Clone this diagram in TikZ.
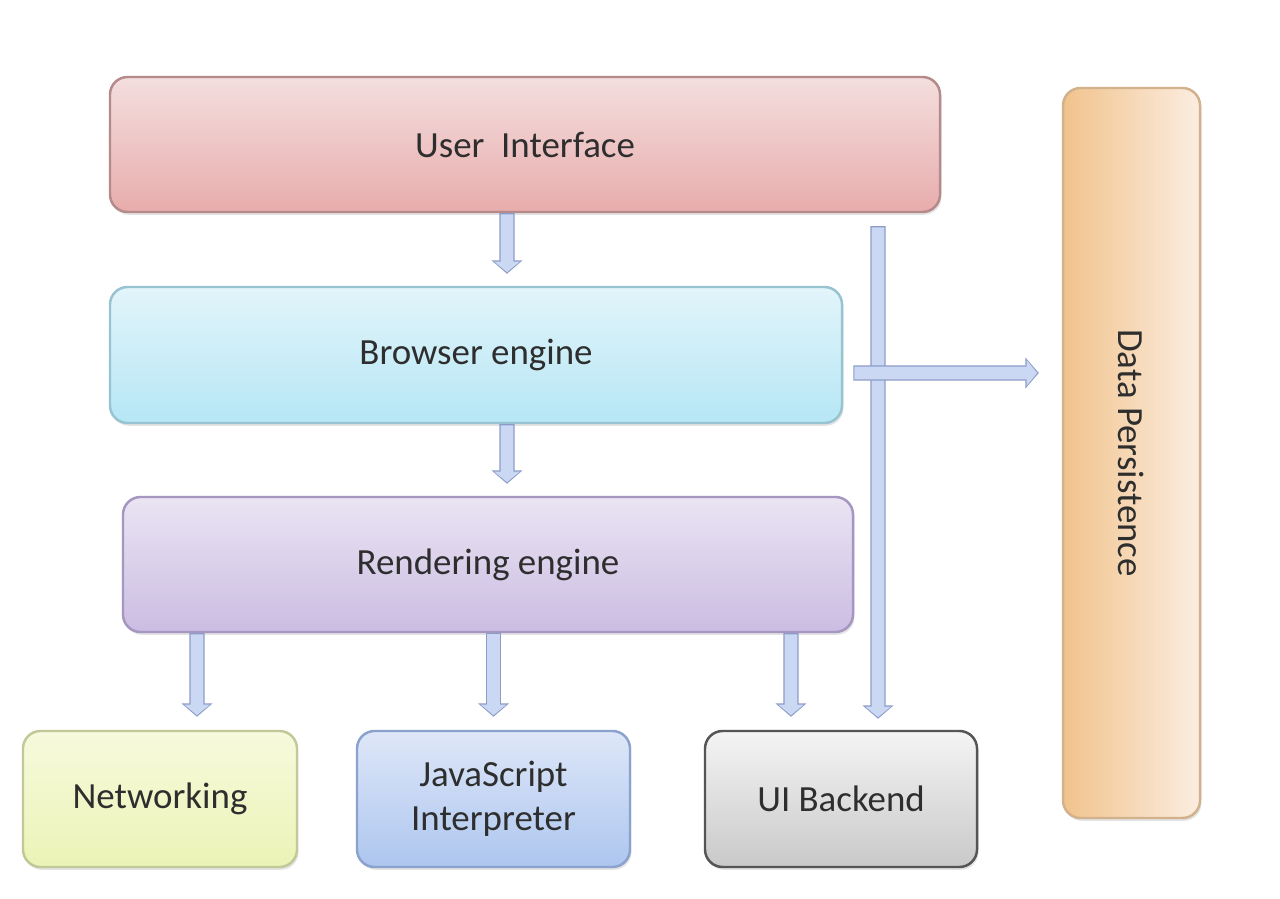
\documentclass[tikz,border=0pt]{standalone}
\usepackage{fontspec}
\setmainfont{Carlito}
\usepackage{xcolor}
\usetikzlibrary{arrows.meta,shadows}
\definecolor{ink}{HTML}{2E2E2E}
\definecolor{uitop}{HTML}{F4DEDE}
\definecolor{uibot}{HTML}{E8ACAC}
\definecolor{uiline}{HTML}{B58A8A}
\definecolor{betop}{HTML}{E2F5FA}
\definecolor{bebot}{HTML}{B6E6F5}
\definecolor{beline}{HTML}{98C3D0}
\definecolor{retop}{HTML}{EAE4F3}
\definecolor{rebot}{HTML}{CBBDE2}
\definecolor{reline}{HTML}{A597C2}
\definecolor{nettop}{HTML}{F7FADC}
\definecolor{netbot}{HTML}{EBF3B6}
\definecolor{netline}{HTML}{C2C998}
\definecolor{jstop}{HTML}{DEE7F8}
\definecolor{jsbot}{HTML}{ADC6EF}
\definecolor{jsline}{HTML}{8CA2CE}
\definecolor{uibtop}{HTML}{F4F4F4}
\definecolor{uibbot}{HTML}{C9C9C9}
\definecolor{uibline}{HTML}{555555}
\definecolor{dpleft}{HTML}{F1C38C}
\definecolor{dpright}{HTML}{FBEDE1}
\definecolor{dpline}{HTML}{D2B28C}
\definecolor{arrfill}{HTML}{CAD8F4}
\definecolor{arrline}{HTML}{8C9CC8}

\tikzset{
  box/.style={rounded corners=5pt, line width=0.7pt, text=ink,
    font=\fontsize{10.5}{12.5}\selectfont, align=center,
    drop shadow={opacity=0.22, shadow xshift=0.4pt, shadow yshift=-0.8pt}},
  flow/.style={line width=3.6pt, draw=arrfill,
    -{Triangle[width=7.1pt,length=3pt]}, shorten >=0.45pt, shorten <=0.3pt,
    preaction={draw=arrline, line width=4.3pt,
      -{Triangle[width=8.6pt,length=3.8pt]}, shorten >=0pt, shorten <=0pt}}
}

\begin{document}
\begin{tikzpicture}
  \fill[white] (0,0) rectangle (12.8,8.98);
  \useasboundingbox (0,0) rectangle (12.8,8.98);

  % layers
  \node[box, draw=uiline, top color=uitop, bottom color=uibot,
    minimum width=8.30cm, minimum height=1.35cm] (ui) at (5.25,7.535) {User\ \ Interface};
  \node[box, draw=beline, top color=betop, bottom color=bebot,
    minimum width=7.32cm, minimum height=1.36cm] (be) at (4.76,5.43) {Browser engine};
  \node[box, draw=reline, top color=retop, bottom color=rebot,
    minimum width=7.30cm, minimum height=1.35cm] (re) at (4.88,3.335) {Rendering engine};

  % bottom row
  \node[box, draw=netline, top color=nettop, bottom color=netbot,
    minimum width=2.74cm, minimum height=1.36cm] (net) at (1.60,0.99) {Networking};
  \node[box, draw=jsline, top color=jstop, bottom color=jsbot,
    minimum width=2.73cm, minimum height=1.36cm] (js) at (4.935,0.99) {JavaScript\\Interpreter};
  \node[box, draw=uibline, top color=uibtop, bottom color=uibbot,
    minimum width=2.72cm, minimum height=1.36cm] (uib) at (8.41,0.99) {UI Backend};

  % side store
  \node[box, draw=dpline, left color=dpleft, right color=dpright,
    minimum width=1.37cm, minimum height=7.30cm] (dp) at (11.315,4.45) {\rotatebox{-90}{Data Persistence}};

  % arrows
  \draw[flow] ([xshift=-1.8mm]ui.south) -- ([xshift=3.1mm,yshift=1.2mm]be.north);
  \draw[flow] ([xshift=3.1mm]be.south) -- ([xshift=1.9mm,yshift=1.2mm]re.north);
  \draw[flow] ([xshift=-29.1mm]re.south) -- ([xshift=3.7mm,yshift=1.3mm]net.north);
  \draw[flow] (re.south -| js.north) -- ([yshift=1.3mm]js.north);
  \draw[flow] ([xshift=30.3mm]re.south) -- ([xshift=-5mm,yshift=1.3mm]uib.north);
  \draw[flow] ([xshift=35.3mm,yshift=-1.3mm]ui.south) -- ([xshift=3.7mm,yshift=1.1mm]uib.north);
  \coordinate (bx) at ([xshift=1mm,yshift=-1.8mm]be.east);
  \coordinate (dpin) at ([xshift=-2.3mm,yshift=8mm]dp.west);
  \draw[flow] (bx) -- (dpin);
\end{tikzpicture}
\end{document}
